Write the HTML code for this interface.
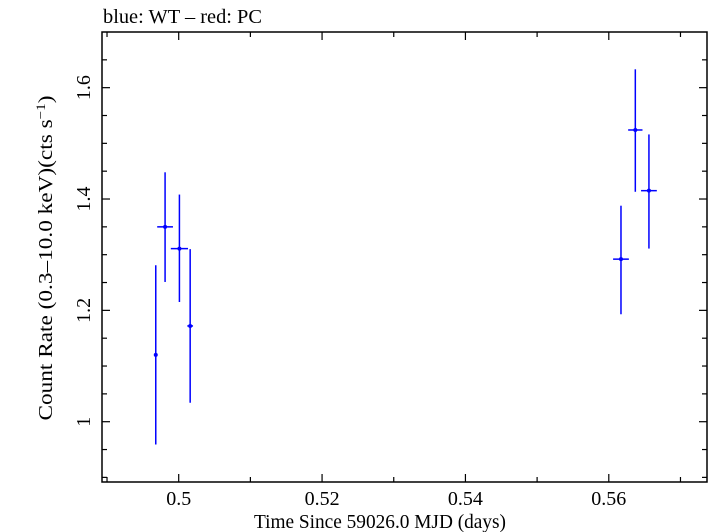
<!DOCTYPE html>
<html><head><meta charset="utf-8"><style>
html,body{margin:0;padding:0;background:#fff;}
svg{display:block;font-family:"Liberation Serif",serif;}
</style></head><body>
<svg id="chart" width="709" height="532" viewBox="0 0 709 532" xmlns="http://www.w3.org/2000/svg">
<text x="103" y="23" font-size="20" textLength="159" lengthAdjust="spacingAndGlyphs">blue: WT – red: PC</text>
<rect x="102" y="32" width="605" height="450" fill="none" stroke="#000" stroke-width="1.5"/>
<g id="ticks"></g>
<g id="marks"></g>
<text x="380" y="528" font-size="20" text-anchor="middle" textLength="252" lengthAdjust="spacingAndGlyphs">Time Since 59026.0 MJD (days)</text>
<text transform="translate(52,258) rotate(-90)" font-size="20" text-anchor="middle" textLength="325" lengthAdjust="spacingAndGlyphs">Count Rate (0.3–10.0 keV)(cts s<tspan baseline-shift="super" font-size="13">−1</tspan>)</text>
</svg>
<script>
const times=[0.4968,0.4981,0.5001,0.5016,0.5617,0.5637,0.5656];
const timeErr=[0.0002,0.0011,0.0012,0.0004,0.0011,0.0010,0.0011];
const rates=[1.120,1.350,1.311,1.172,1.292,1.524,1.415];
const rateErrUp=[0.161,0.098,0.097,0.138,0.096,0.109,0.101];
const rateErrDown=[0.161,0.099,0.096,0.138,0.099,0.111,0.104];
const xTickLabels=[0.5,0.52,0.54,0.56];
const yTickLabels=[1,1.2,1.4,1.6];
const X0=0.4893,X1=0.5737,Y0=0.8917,Y1=1.7;
const L=102,R=707,T=32,B=482;
function xs(v){return L+(v-X0)/(X1-X0)*(R-L);}
function ys(v){return B-(v-Y0)/(Y1-Y0)*(B-T);}
const NS="http://www.w3.org/2000/svg";
function mk(tag,attrs,parent){const e=document.createElementNS(NS,tag);for(const k in attrs)e.setAttribute(k,attrs[k]);parent.appendChild(e);return e;}
const tg=document.getElementById('ticks'),mg=document.getElementById('marks');
for(let i=0;i<=8;i++){const v=0.49+i*0.01;if(v>X1)break;const x=xs(v);const maj=Math.abs(((v-0.5)/0.02)-Math.round((v-0.5)/0.02))<0.01;const len=maj?8:5;
const a=mk('line',{x1:x,x2:x,y1:B,y2:B-len,stroke:'#000','stroke-width':1.2},tg);


const b=mk('line',{x1:x,x2:x,y1:T,y2:T+len,stroke:'#000','stroke-width':1.2},tg);

}
xTickLabels.forEach(v=>{const t=mk('text',{x:xs(v),y:505,'font-size':20,'text-anchor':'middle'},tg);t.textContent=String(v);

});
for(let i=0;i<16;i++){const v=0.9+i*0.05;if(v>Y1)break;const y=ys(v);const maj=Math.abs(((v-1)/0.2)-Math.round((v-1)/0.2))<0.01;const len=maj?8:5;
const a=mk('line',{x1:L,x2:L+len,y1:y,y2:y,stroke:'#000','stroke-width':1.2},tg);


const b=mk('line',{x1:R,x2:R-len,y1:y,y2:y,stroke:'#000','stroke-width':1.2},tg);

}
yTickLabels.forEach(v=>{const y=ys(v);const t=mk('text',{transform:`translate(90,${y}) rotate(-90)`,'font-size':20,'text-anchor':'middle'},tg);t.textContent=String(v);

});
times.forEach((t,i)=>{const g=mk('g',{},mg);


const x=xs(t),y=ys(rates[i]);
mk('line',{x1:x,x2:x,y1:ys(rates[i]+rateErrUp[i]),y2:ys(rates[i]-rateErrDown[i]),stroke:'#0000ff','stroke-width':1.5},g);
mk('line',{x1:xs(t-timeErr[i]),x2:xs(t+timeErr[i]),y1:y,y2:y,stroke:'#0000ff','stroke-width':1.5},g);
mk('circle',{cx:x,cy:y,r:2,fill:'#0000ff'},g);});
</script>
</body></html>
